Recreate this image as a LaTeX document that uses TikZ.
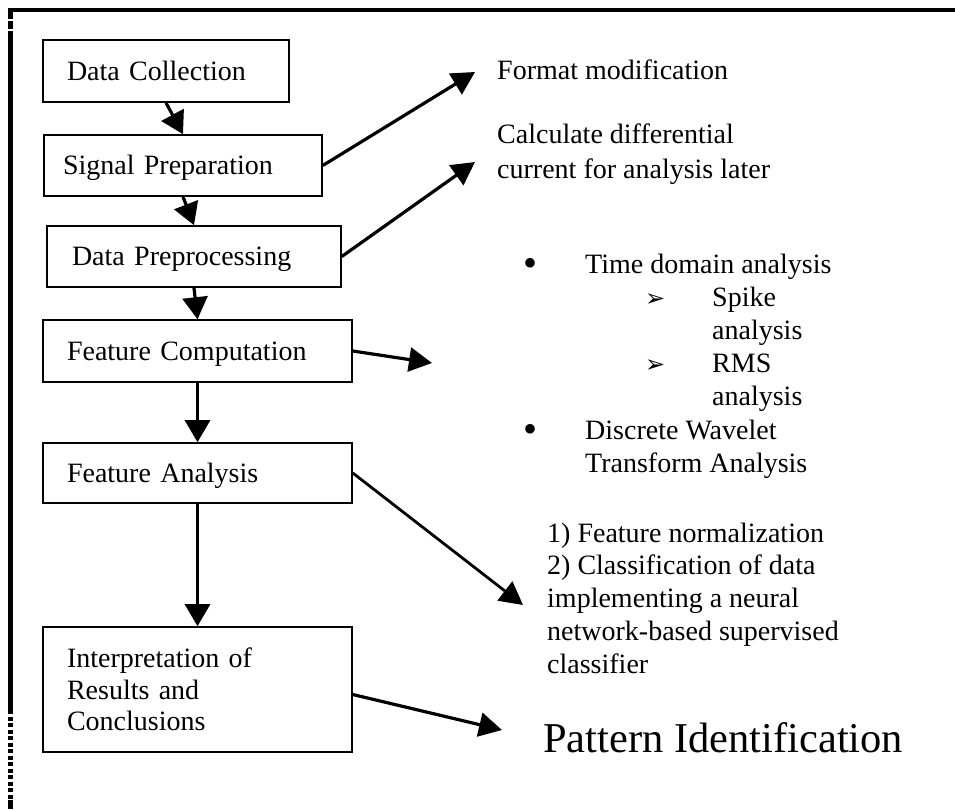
\documentclass[tikz,border=0pt]{standalone}
\usepackage{fontspec}
\setmainfont{Liberation Serif}
\newfontfamily\symfont{DejaVu Sans}
\usetikzlibrary{arrows.meta,calc}
\newcommand{\bigbul}{\raisebox{-3pt}{\fontsize{40}{40}\selectfont\textbullet}}
\newcommand{\arrbul}{{\symfont\fontsize{24}{24}\selectfont ➢}}
\begin{document}
\begin{tikzpicture}[x=1pt,y=-1pt,
  frame/.style={line width=4.5pt},
  box/.style={draw,line width=1.6pt,inner ysep=0pt,align=left,
    font=\fontsize{28}{31.5}\selectfont},
  oneline/.style={text height=20pt,text depth=2pt},
  flow/.style={line width=3.2pt,-{Triangle[length=22pt,width=25pt]}},
  side/.style={line width=3.2pt,-{Triangle[length=23pt,width=24pt]}},
  txt/.style={inner sep=0pt,anchor=base west,font=\fontsize{28}{33}\selectfont}]

\fill[white] (0,0) rectangle (955,809);
\useasboundingbox (0,0) rectangle (955,809);

% frame
\draw[frame] (8,10) -- (955,10);
\draw[frame] (10.5,8) -- (10.5,710);
\draw[line width=5pt,dash pattern=on 4pt off 2.5pt] (10.5,710) -- (10.5,800);
\draw[frame] (10.5,800) -- (10.5,809);
\draw[white,line width=1.5pt] (8,20) -- (13,20) (8,30) -- (13,30);

% boxes
\node[box,oneline,minimum width=246pt,minimum height=62pt,text width=198pt,inner xsep=24pt] (b1) at (166,71) {Data Collection};
\node[box,oneline,minimum width=278pt,minimum height=61pt,text width=240pt,inner xsep=19pt] (b2) at (183,165.5) {Signal Preparation};
\node[box,oneline,minimum width=294pt,minimum height=61pt,text width=244pt,inner xsep=25pt] (b3) at (194,256.5) {Data Preprocessing};
\node[box,oneline,minimum width=309pt,minimum height=62pt,text width=261pt,inner xsep=24pt] (b4) at (197.5,351) {Feature Computation};
\node[box,oneline,minimum width=309pt,minimum height=60pt,text width=261pt,inner xsep=24pt] (b5) at (197.5,473) {Feature Analysis};
\node[box,minimum width=309pt,minimum height=125pt,text width=261pt,inner xsep=24pt] (b6) at (197.5,689.5) {Interpretation of\\Results and\\Conclusions};

% flow arrows
\draw[flow] (b1.south) -- (b2.north);
\draw[flow] (b2.south) -- (b3.north);
\draw[flow] (b3.south) -- (b4.north);
\draw[flow] (b4.south) -- (b5.north);
\draw[flow] (b5.south) -- (b6.north);

% side texts
\node[txt] (fm) at (497,79) {Format modification};
\node[txt,font=\fontsize{28}{35}\selectfont] (cd) at (497,143) {\parbox[t]{320pt}{\raggedright Calculate differential\\current for analysis later}};
\node[txt,font=\fontsize{28}{33.2}\selectfont] (list) at (523,273) {\parbox[t]{420pt}{\raggedright
\makebox[62pt][l]{\bigbul}Time domain analysis\\
\hspace*{122pt}\makebox[67pt][l]{\arrbul}Spike\\
\hspace*{189pt}analysis\\
\hspace*{122pt}\makebox[67pt][l]{\arrbul}RMS\\
\hspace*{189pt}analysis\\
\makebox[62pt][l]{\bigbul}Discrete Wavelet\\
\hspace*{62pt}Transform Analysis}};
\node[txt,font=\fontsize{28}{32.75}\selectfont] (cls) at (547,542) {\parbox[t]{400pt}{\raggedright 1) Feature normalization\\2) Classification of data\\implementing a neural\\network-based supervised\\classifier}};
\node[txt,font=\fontsize{42.5}{50}\selectfont] (pat) at (543,752) {Pattern Identification};

% side arrows
\coordinate (t1) at (475,72);
\coordinate (t2) at (475,162);
\coordinate (t3) at (432,363);
\coordinate (t4) at (523,605);
\coordinate (t5) at (502,730);
\draw[side] (b2.east) -- (t1);
\draw[side] (b3.east) -- (t2);
\draw[side] (b4.east) -- (t3);
\draw[side,line width=2.8pt] (b5.east) -- (t4);
\draw[side] ($(b6.east)+(0,5)$) -- (t5);
\end{tikzpicture}
\end{document}
